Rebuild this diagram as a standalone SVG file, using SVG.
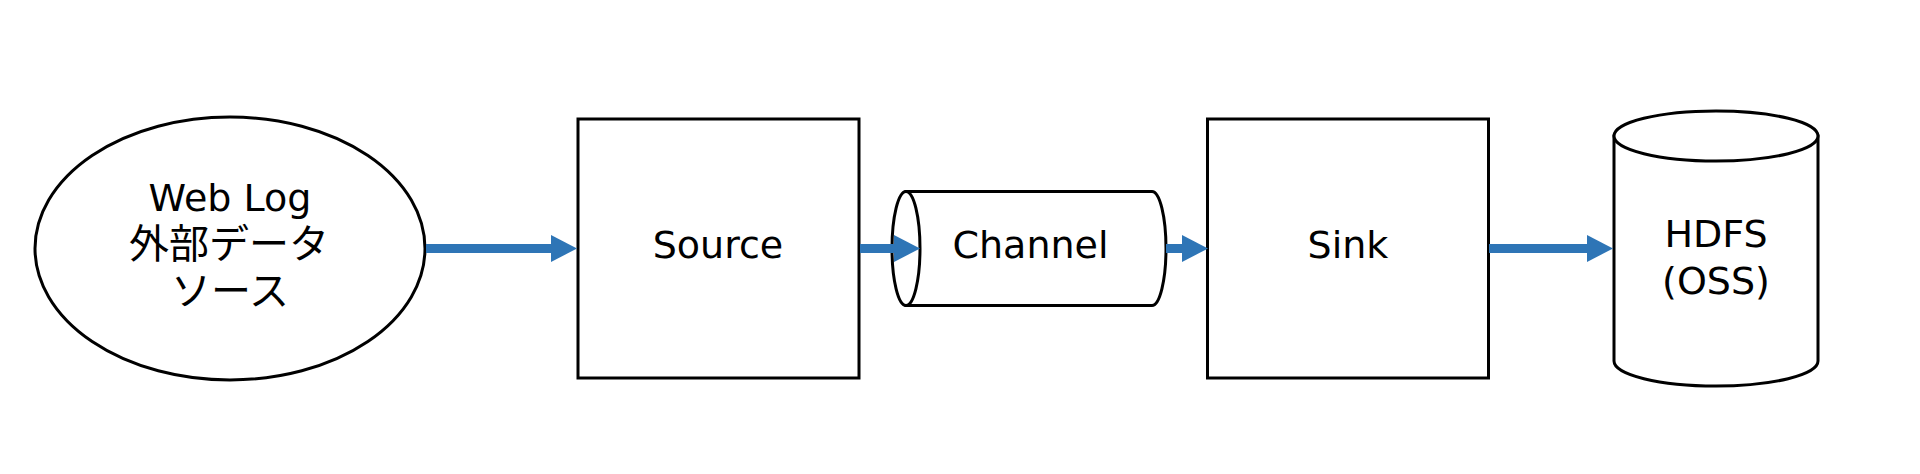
<svg xmlns="http://www.w3.org/2000/svg" width="1920" height="474" viewBox="0 0 1920 474">
<style>
.shape{fill:#fff;stroke:#000;stroke-width:3}
.lbl{font-family:"DejaVu Sans","Noto Sans CJK JP",sans-serif;font-size:38px;fill:#000;text-anchor:middle}
.jp{font-family:"Noto Sans CJK JP","DejaVu Sans",sans-serif;font-size:40px}
.conn{stroke:#2E75B6;stroke-width:9;fill:none}
</style>
<defs>
<marker id="ah" viewBox="0 0 26 27" refX="2" refY="13.5" markerWidth="26" markerHeight="27" markerUnits="userSpaceOnUse" orient="auto">
<path d="M0,0 L26,13.5 L0,27 Z" fill="#2E75B6"/>
</marker>
</defs>
<rect width="1920" height="474" fill="#fff"/>
<g id="weblog">
<ellipse class="shape" cx="230" cy="248.5" rx="195" ry="131.5"/>
<text class="lbl" x="230" y="210.5">Web Log</text>
<text class="lbl jp" x="229" y="257.5">外部データ</text>
<text class="lbl jp" x="230" y="304.5">ソース</text>
</g>
<g id="source">
<rect class="shape" x="578" y="119" width="281" height="259"/>
<text class="lbl" x="718" y="258">Source</text>
</g>
<g id="channel">
<path class="shape" d="M906,191.5 L1152,191.5 A14,57 0 0 1 1152,305.5 L906,305.5 Z"/>
<ellipse class="shape" cx="906" cy="248.5" rx="14" ry="57"/>
<text class="lbl" x="1030.5" y="258">Channel</text>
</g>
<g id="sink">
<rect class="shape" x="1207.5" y="119" width="281" height="259"/>
<text class="lbl" x="1348" y="258">Sink</text>
</g>
<g id="hdfs">
<path class="shape" d="M1614,136 L1614,361 A102,25 0 0 0 1818,361 L1818,136 Z"/>
<ellipse class="shape" cx="1716" cy="136" rx="102" ry="25"/>
<text class="lbl" x="1716" y="247">HDFS</text>
<text class="lbl" x="1716" y="294">(OSS)</text>
</g>
<g id="connectors">
<line class="conn" x1="426" y1="248.5" x2="553" y2="248.5" marker-end="url(#ah)"/>
<line class="conn" x1="860" y1="248.5" x2="896" y2="248.5" marker-end="url(#ah)"/>
<line class="conn" x1="1166" y1="248.5" x2="1184" y2="248.5" marker-end="url(#ah)"/>
<line class="conn" x1="1489" y1="248.5" x2="1589" y2="248.5" marker-end="url(#ah)"/>
</g>
</svg>
